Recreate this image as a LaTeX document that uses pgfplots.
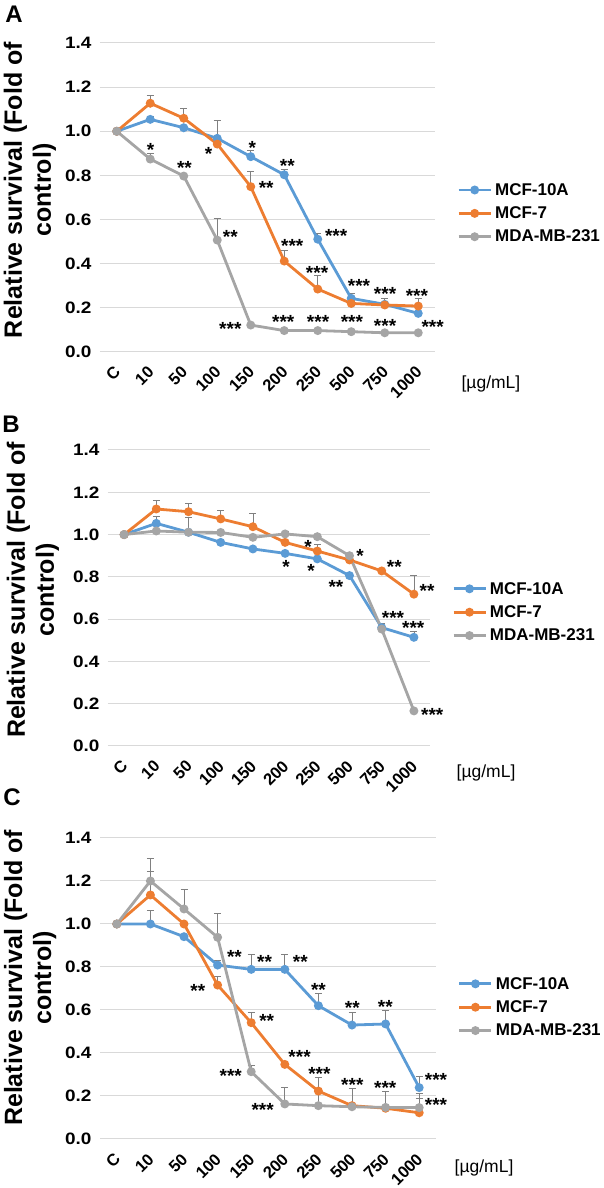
\documentclass[border=0pt]{standalone}
\usepackage{pgfplots}
\pgfplotsset{compat=1.18}
\usepackage{fontspec}
\setmainfont{Liberation Sans}
\newfontfamily\tickfam{Liberation Sans}[FakeStretch=1.15]
\definecolor{cblue}{RGB}{91,155,213}
\definecolor{corange}{RGB}{237,125,49}
\definecolor{cgray}{RGB}{165,165,165}
\definecolor{gridc}{RGB}{217,217,217}
\definecolor{errc}{RGB}{128,128,128}
\newcommand\ytickfont{\tickfam\fontsize{16.5}{18}\selectfont\bfseries}
\newcommand\xtickfont{\fontsize{16.5}{18}\selectfont\bfseries}
\newcommand\ylabfont{\fontsize{25}{29}\selectfont\bfseries}
\newcommand\legfont{\fontsize{17}{19}\selectfont\bfseries}
\newcommand\unitfont{\fontsize{17.5}{19}\selectfont}
\newcommand\starfont{\fontsize{19}{19}\selectfont\bfseries}
\newcommand\letfont{\fontsize{24}{24}\selectfont\bfseries}
\tikzset{st/.style={font=\starfont, inner sep=0pt, yshift=-4pt}}
\pgfplotsset{
 panel/.style={
  scale only axis, xmin=-0.5, xmax=9.5, ymin=0, ymax=1.4,
  xtick={0,...,9}, xticklabels={C,10,50,100,150,200,250,500,750,1000},
  ytick={0,0.2,0.4,0.6,0.8,1.0,1.2,1.4},
  ymajorgrids, major grid style={draw=gridc, line width=1pt},
  axis line style={draw=none}, major tick length=0pt,
  yticklabel style={font=\ytickfont, xshift=-5pt, /pgf/number format/.cd, fixed, fixed zerofill, precision=1, assume math mode=true},
  xticklabel style={font=\xtickfont, xshift=3pt, yshift=-15pt, rotate=45, anchor=east},
  ylabel style={font=\ylabfont, align=center, anchor=center},
  xlabel style={font=\unitfont, anchor=center},
  legend style={draw=none, fill=none, font=\legfont, anchor=north west, row sep=6pt, inner sep=0pt, column sep=1pt},
  legend cell align=left,
  legend image code/.code={\draw[mark repeat=2,mark phase=2,#1] plot coordinates {(0pt,0pt) (16pt,0pt) (32pt,0pt)};},
  clip=false,
 },
 ser/.style={line width=2.8pt, mark=*, mark size=3pt, mark options={solid}},
 err/.style={forget plot, only marks, mark=-, mark size=3.2pt, color=errc, line width=0.8pt,
   mark options={draw=errc, line width=0.8pt},
   error bars/y dir=plus, error bars/y explicit, error bars/error mark=|,
   error bars/error bar style={draw=errc, line width=0.8pt},
   error bars/error mark options={draw=errc, line width=0.8pt, mark size=3.5pt}},
}
\begin{document}
\begin{tikzpicture}[x=1pt,y=1pt]
\useasboundingbox (0,0) rectangle (603,1188);
\coordinate (pA) at (100,836);
\coordinate (pB) at (108,442);
\coordinate (pC) at (100,49);
\node[font=\letfont] at (14,1174) {A};
\node[font=\letfont] at (11,764) {B};
\node[font=\letfont] at (12,391) {C};
% ---------------- Panel A
\begin{axis}[panel, at={(pA)}, anchor=south west, width=335pt, height=309pt,
  ylabel={Relative survival (Fold of\\control)},
  ylabel style={at={(axis description cs:-0.209,0.524)}},
  xlabel={[µg/mL]}, xlabel style={at={(axis description cs:1.167,-0.104)}},
  legend style={at={(axis description cs:1.066,0.553)}}]
\addplot[err] table[x=x,y=y,y error=e] {
x y e
1 1.054 0.012
3 0.968 0.08
4 0.885 0.027
5 0.803 0.025
6 0.511 0.027
7 0.243 0.023
8 0.216 0.027
};
\addplot[err] table[x=x,y=y,y error=e] {
x y e
1 1.127 0.034
2 1.059 0.045
4 0.749 0.068
5 0.412 0.046
6 0.285 0.064
9 0.208 0.035
};
\addplot[err] table[x=x,y=y,y error=e] {
x y e
1 0.874 0.026
2 0.797 0.013
3 0.507 0.096
};
\addplot[ser, cblue] table {
0 1.000
1 1.054
2 1.016
3 0.968
4 0.885
5 0.803
6 0.511
7 0.243
8 0.216
9 0.175
};
\addplot[ser, corange] table {
0 1.000
1 1.127
2 1.059
3 0.942
4 0.749
5 0.412
6 0.285
7 0.220
8 0.213
9 0.208
};
\addplot[ser, cgray] table {
0 1.000
1 0.874
2 0.797
3 0.507
4 0.122
5 0.097
6 0.097
7 0.092
8 0.087
9 0.087
};
\legend{MCF-10A,MCF-7,MDA-MB-231}
\node[st] at (axis cs:1.01,0.933) {*};
\node[st] at (axis cs:2.02,0.852) {**};
\node[st] at (axis cs:2.74,0.915) {*};
\node[st] at (axis cs:4.05,0.942) {*};
\node[st] at (axis cs:5.09,0.861) {**};
\node[st] at (axis cs:4.46,0.761) {**};
\node[st] at (axis cs:3.39,0.539) {**};
\node[st] at (axis cs:6.55,0.544) {***};
\node[st] at (axis cs:5.24,0.498) {***};
\node[st] at (axis cs:5.98,0.376) {***};
\node[st] at (axis cs:7.23,0.317) {***};
\node[st] at (axis cs:8.01,0.281) {***};
\node[st] at (axis cs:8.96,0.272) {***};
\node[st] at (axis cs:3.39,0.122) {***};
\node[st] at (axis cs:4.97,0.154) {***};
\node[st] at (axis cs:6.01,0.154) {***};
\node[st] at (axis cs:7.02,0.154) {***};
\node[st] at (axis cs:8.01,0.136) {***};
\node[st] at (axis cs:9.43,0.131) {***};
\end{axis}
% ---------------- Panel B
\begin{axis}[panel, at={(pB)}, anchor=south west, width=322pt, height=296pt,
  ylabel={Relative survival (Fold of\\control)},
  ylabel style={at={(axis description cs:-0.233,0.527)}},
  xlabel={[µg/mL]}, xlabel style={at={(axis description cs:1.174,-0.091)}},
  legend style={at={(axis description cs:1.068,0.561)}}]
\addplot[err] table[x=x,y=y,y error=e] {
x y e
1 1.053 0.032
8 0.560 0.02
9 0.514 0.027
};
\addplot[err] table[x=x,y=y,y error=e] {
x y e
1 1.121 0.04
2 1.108 0.04
3 1.074 0.042
4 1.037 0.064
6 0.922 0.032
9 0.718 0.088
};
\addplot[err] table[x=x,y=y,y error=e] {
x y e
2 1.011 0.07
4 0.987 0.01
5 1.003 0.01
7 0.900 0.01
};
\addplot[ser, cblue] table {
0 1.000
1 1.053
2 1.011
3 0.963
4 0.932
5 0.911
6 0.885
7 0.806
8 0.560
9 0.514
};
\addplot[ser, corange] table {
0 1.000
1 1.121
2 1.108
3 1.074
4 1.037
5 0.963
6 0.922
7 0.880
8 0.828
9 0.718
};
\addplot[ser, cgray] table {
0 1.000
1 1.017
2 1.011
3 1.010
4 0.987
5 1.003
6 0.990
7 0.900
8 0.553
9 0.166
};
\legend{MCF-10A,MCF-7,MDA-MB-231}
\node[st] at (axis cs:5.71,0.960) {*};
\node[st] at (axis cs:5.03,0.866) {*};
\node[st] at (axis cs:5.81,0.847) {*};
\node[st] at (axis cs:7.33,0.918) {*};
\node[st] at (axis cs:6.58,0.771) {**};
\node[st] at (axis cs:8.39,0.866) {**};
\node[st] at (axis cs:9.41,0.752) {**};
\node[st] at (axis cs:8.35,0.624) {***};
\node[st] at (axis cs:8.98,0.577) {***};
\node[st] at (axis cs:9.57,0.166) {***};
\end{axis}
% ---------------- Panel C
\begin{axis}[panel, at={(pC)}, anchor=south west, width=336pt, height=301pt,
  ylabel={Relative survival (Fold of\\control)},
  ylabel style={at={(axis description cs:-0.208,0.535)}},
  xlabel={[µg/mL]}, xlabel style={at={(axis description cs:1.143,-0.096)}},
  legend style={at={(axis description cs:1.065,0.545)}}]
\addplot[err] table[x=x,y=y,y error=e] {
x y e
1 1.000 0.065
3 0.809 0.02
4 0.789 0.07
5 0.789 0.07
6 0.620 0.058
7 0.530 0.06
8 0.535 0.065
9 0.239 0.05
};
\addplot[err] table[x=x,y=y,y error=e] {
x y e
1 1.135 0.11
3 0.716 0.04
4 0.541 0.05
9 0.122 0.068
};
\addplot[err] table[x=x,y=y,y error=e] {
x y e
1 1.200 0.106
2 1.070 0.09
3 0.938 0.11
4 0.313 0.03
5 0.163 0.077
6 0.155 0.13
7 0.150 0.086
8 0.147 0.073
9 0.146 0.067
};
\addplot[ser, cblue] table {
0 1.000
1 1.000
2 0.941
3 0.809
4 0.789
5 0.789
6 0.620
7 0.530
8 0.535
9 0.239
};
\addplot[ser, corange] table {
0 1.000
1 1.135
2 1.000
3 0.716
4 0.541
5 0.347
6 0.223
7 0.155
8 0.143
9 0.122
};
\addplot[ser, cgray] table {
0 1.000
1 1.200
2 1.070
3 0.938
4 0.313
5 0.163
6 0.155
7 0.150
8 0.147
9 0.146
};
\legend{MCF-10A,MCF-7,MDA-MB-231}
\node[st] at (axis cs:3.50,0.865) {**};
\node[st] at (axis cs:4.40,0.842) {**};
\node[st] at (axis cs:5.46,0.842) {**};
\node[st] at (axis cs:2.41,0.707) {**};
\node[st] at (axis cs:6.00,0.712) {**};
\node[st] at (axis cs:7.01,0.628) {**};
\node[st] at (axis cs:7.99,0.633) {**};
\node[st] at (axis cs:4.46,0.567) {**};
\node[st] at (axis cs:5.44,0.400) {***};
\node[st] at (axis cs:6.03,0.321) {***};
\node[st] at (axis cs:7.01,0.270) {***};
\node[st] at (axis cs:7.99,0.256) {***};
\node[st] at (axis cs:9.50,0.293) {***};
\node[st] at (axis cs:9.50,0.177) {***};
\node[st] at (axis cs:3.39,0.312) {***};
\node[st] at (axis cs:4.34,0.153) {***};
\end{axis}
\end{tikzpicture}
\end{document}
